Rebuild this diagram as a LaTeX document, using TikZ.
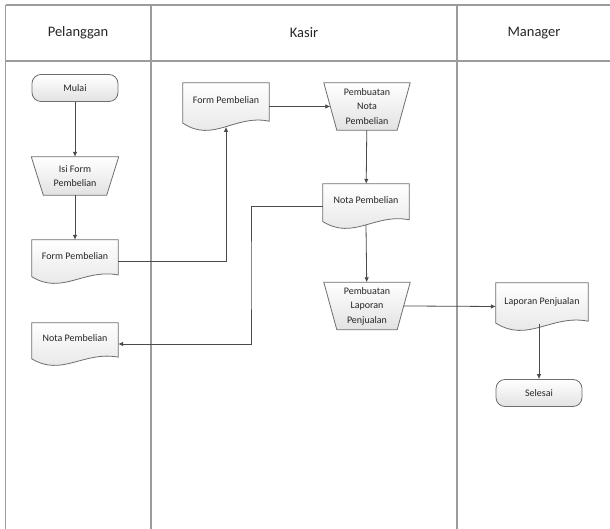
\documentclass[tikz,border=0pt]{standalone}
\usepackage{fontspec}
\setmainfont{Carlito}
\usetikzlibrary{arrows.meta,calc,backgrounds}
\definecolor{lanegray}{HTML}{9C9C9C}
\definecolor{shapegray}{HTML}{6E6E6E}
\definecolor{fillgray}{HTML}{E2E2E2}
\definecolor{arrowgray}{HTML}{4A4A4A}
\definecolor{textgray}{HTML}{262626}
\newcommand\docshape[1]{%
  \path[shapefill] let \p1=(#1.north west), \p2=(#1.south east) in
    (\x1,\y1) -- (\x2,\y1) -- (\x2,{\y1-0.81*(\y1-\y2)})
    .. controls ({\x1+0.6*(\x2-\x1)},{\y1-0.66*(\y1-\y2)}) and ({\x1+0.35*(\x2-\x1)},{\y1-1.28*(\y1-\y2)}) .. (\x1,{\y1-0.85*(\y1-\y2)}) -- cycle;}
\newcommand\manualop[2]{%
  \path[shapefill] let \p1=(#1.north west), \p2=(#1.south east) in
    (\x1,\y1) -- (\x2,\y1) -- ({\x2-#2},\y2) -- ({\x1+#2},\y2) -- cycle;}
\begin{document}
\begin{tikzpicture}[x=1pt,y=-1pt,
  every node/.style={font=\fontsize{10}{14.5}\selectfont, text=textgray, align=center, inner sep=1pt},
  lane/.style={draw=lanegray, line width=1.1pt},
  header/.style={font=\fontsize{14.5}{17}\selectfont, text=black!85},
  shapefill/.style={draw=shapegray, line width=0.8pt, top color=white, bottom color=fillgray},
  term/.style={rectangle, rounded corners=9pt, draw=shapegray, line width=0.8pt, top color=white, bottom color=fillgray, minimum width=86, minimum height=27},
  doc/.style={rectangle, minimum width=86, minimum height=44, text height=7, text depth=12},
  mop/.style={rectangle, minimum width=86, minimum height=47},
  arr/.style={draw=arrowgray, line width=0.8pt, -{Latex[length=5pt,width=4.5pt]}}]
\useasboundingbox (0,0) rectangle (610,529);
% swimlanes
\draw[lane] (5.5,5) -- (610,5);
\draw[lane] (5.5,61) -- (610,61);
\draw[lane] (5.5,5) -- (5.5,529);
\draw[lane] (151,5) -- (151,529);
\draw[lane] (457,5) -- (457,529);
\node[header] (hP) at (78,33) {Pelanggan};
\node[header] (hK) at (304,33) {Kasir};
\node[header] (hM) at (534,33) {Manager};
% nodes
\node[term] (mulai) at (75,88) {Mulai};
\node[mop, minimum width=87, minimum height=38] (isi) at (75,176) {Isi Form\\Pembelian};
\node[doc, minimum height=43] (formP) at (75,261.5) {Form Pembelian};
\node[doc, minimum height=42] (notaP) at (75,344) {Nota Pembelian};
\node[doc, minimum height=47] (formK) at (226,106.5) {Form Pembelian};
\node[mop] (buatNota) at (367,106.5) {Pembuatan\\Nota\\Pembelian};
\node[doc, minimum height=44] (notaK) at (366,206) {Nota Pembelian};
\node[mop] (buatLap) at (367,306) {Pembuatan\\Laporan\\Penjualan};
\node[doc, minimum width=92, minimum height=47] (lap) at (542,306.5) {Laporan Penjualan};
\node[term] (selesai) at (539,393) {Selesai};
\begin{scope}[on background layer]
  \manualop{isi}{12pt}
  \manualop{buatNota}{13pt}
  \manualop{buatLap}{13pt}
  \docshape{formP}
  \docshape{notaP}
  \docshape{formK}
  \docshape{notaK}
  \docshape{lap}
\end{scope}
\coordinate (formKb) at ($(formK.north)!0.93!(formK.south)$);
\coordinate (notaKb) at ($(notaK.north)!0.93!(notaK.south)$);
\coordinate (lapb) at ($(lap.north west)!0.87!(lap.south west)$);
\coordinate (bendA) at (251,275);
% connectors
\draw[arr] (mulai) -- (isi);
\draw[arr] (isi) -- (formP);
\draw[arr] (formP.east) -| (formKb);
\draw[arr, shorten >=-6.5pt] (formK.east) -- (buatNota.west);
\draw[arr] (buatNota) -- (notaK);
\draw[arr] (notaK.west) -| (bendA) |- (notaP.east);
\draw[arr] (notaKb) -- (buatLap);
\draw[arr, shorten <=-6.5pt] (buatLap.east) -- (lap.west);
\draw[arr] (lapb -| selesai.north) -- (selesai.north);
\end{tikzpicture}
\end{document}
